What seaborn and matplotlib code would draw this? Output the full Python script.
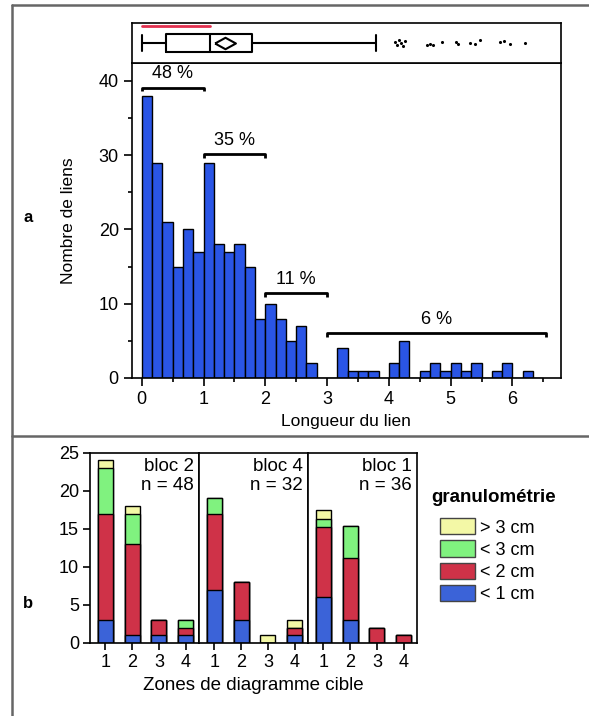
import numpy as np
import pandas as pd
import matplotlib.pyplot as plt
import seaborn as sns
from matplotlib.lines import Line2D
from matplotlib.patches import Patch
from matplotlib.ticker import MultipleLocator

# --- panneau a : histogramme des longueurs de liens (classes de 1/6) ---
hist_counts = [38, 29, 21, 15, 20, 17,
               29, 18, 17, 18, 15, 8,
               10, 8, 5, 7, 2, 0,
               0, 4, 1, 1, 1, 0,
               2, 5, 0, 1, 2, 1,
               2, 1, 2, 0, 1, 2,
               0, 1, 0]
bin_w = 1 / 6

pct_labels = ['48 %', '35 %', '11 %', '6 %']
pct_x0 = [0, 1, 2, 3]
pct_x1 = [1, 2, 3, 6.55]
pct_y = [39.1, 30.1, 11.4, 6.0]

# boite a moustaches
box_q1, box_med, box_mean, box_q3 = 0.39, 1.10, 1.34, 1.78
box_whislo, box_whishi = 0.0, 3.79
out_x = [4.10, 4.13, 4.16, 4.20, 4.23, 4.26, 4.62, 4.66, 4.72, 4.86,
         5.09, 5.12, 5.31, 5.40, 5.47, 5.80, 5.86, 5.96, 6.20]
out_y = [0.05, -0.1, 0.12, 0.0, -0.15, 0.08, -0.12, -0.05, -0.1, 0.02,
         0.05, -0.08, 0.0, -0.05, 0.12, 0.05, 0.1, -0.05, -0.02]
red_x = [0.0, 1.10]

# --- panneau b : granulometrie par zone ---
blocs = ['bloc 2', 'bloc 4', 'bloc 1']
bloc_n = [48, 32, 36]
zones = ['1', '2', '3', '4']
lt1 = [[3, 1, 1, 1], [7, 3, 0, 1], [6, 3, 0, 0]]
lt2 = [[14, 12, 2, 1], [10, 5, 0, 1], [9.2, 8.2, 2, 1]]
lt3 = [[6, 4, 0, 1], [2, 0, 0, 0], [1.1, 4.15, 0, 0]]
gt3 = [[1, 1, 0, 0], [0, 0, 1, 1], [1.1, 0, 0, 0]]
classes = ['> 3 cm', '< 3 cm', '< 2 cm', '< 1 cm']
class_colors = ['#f3f8a6', '#80f27f', '#cf3248', '#3b63d8']

sns.set_style('ticks')
plt.rcParams['font.family'] = ['Liberation Sans', 'DejaVu Sans']
plt.rcParams['axes.linewidth'] = 1.2
for key in ['text.color', 'axes.labelcolor', 'xtick.color', 'ytick.color', 'axes.edgecolor']:
    plt.rcParams[key] = 'black'

W, H = 589, 716
fig = plt.figure(figsize=(W / 100, H / 100), dpi=100)

def fx(px):
    return px / W

def fy(py):
    return 1 - py / H

x_lo, x_hi = -0.157, 6.78

# histogramme
ax_h = fig.add_axes([fx(132), fy(378), fx(560.7) - fx(132), fy(63) - fy(378)])
centers = (np.arange(len(hist_counts)) + 0.5) * bin_w
df_h = pd.DataFrame({'longueur': centers, 'n': hist_counts})
sns.histplot(data=df_h, x='longueur', weights='n', binwidth=bin_w,
             binrange=(0, len(hist_counts) * bin_w), color='#2a55e6',
             edgecolor='black', linewidth=1, alpha=1, ax=ax_h)
ax_h.set_xlim(x_lo, x_hi)
ax_h.set_ylim(0, 42.4)
ax_h.xaxis.set_major_locator(MultipleLocator(1))
ax_h.xaxis.set_minor_locator(MultipleLocator(0.5))
ax_h.yaxis.set_major_locator(MultipleLocator(10))
ax_h.yaxis.set_minor_locator(MultipleLocator(5))
ax_h.tick_params(which='major', length=6, width=1.2, labelsize=13, direction='out')
ax_h.tick_params(which='minor', length=3, width=1.2, direction='out')
ax_h.set_xlabel('Longueur du lien', fontsize=12.5, labelpad=4)
ax_h.set_ylabel('Nombre de liens', fontsize=12.5, labelpad=16)
for s in ax_h.spines.values():
    s.set_visible(True)

for lab, a, b, y in zip(pct_labels, pct_x0, pct_x1, pct_y):
    ax_h.plot([a, a, b, b], [y - 0.5, y, y, y - 0.5], color='black', lw=2,
              solid_capstyle='butt')
    ax_h.text((a + b) / 2, y + 0.7, lab, ha='center', va='bottom', fontsize=13)

# boite a moustaches
ax_b = fig.add_axes([fx(132), fy(63), fx(560.7) - fx(132), fy(22.7) - fy(63)])
stats = [dict(q1=box_q1, med=box_med, q3=box_q3, mean=box_mean,
              whislo=box_whislo, whishi=box_whishi, fliers=[])]
diamond = [(-1, 0), (0, 0.55), (1, 0), (0, -0.55), (-1, 0)]
ax_b.bxp(stats, positions=[0], widths=0.9, orientation='horizontal',
         showmeans=True, capwidths=0.8,
         boxprops=dict(color='black', lw=1.5),
         whiskerprops=dict(color='black', lw=1.5),
         capprops=dict(color='black', lw=1.5),
         medianprops=dict(color='black', lw=1.5),
         meanprops=dict(marker=diamond, markersize=15, markerfacecolor='white',
                        markeredgecolor='black', markeredgewidth=1.5))
ax_b.scatter(out_x, out_y, s=1.5, color='black', zorder=3)
ax_b.plot(red_x, [0.85, 0.85], color='#e2304f', lw=2)
ax_b.set_xlim(x_lo, x_hi)
ax_b.set_ylim(-1, 1)
ax_b.set_xticks([])
ax_b.set_yticks([])
for s in ax_b.spines.values():
    s.set_visible(True)

# panneau b : barres empilees
left, right = 90, 417
pw = (right - left) / 3
axes_b = []
for i, bloc in enumerate(blocs):
    ax = fig.add_axes([fx(left + i * pw), fy(642.7), fx(pw), fy(452.7) - fy(642.7)])
    axes_b.append(ax)
    layers = np.array([lt1[i], lt2[i], lt3[i], gt3[i]], dtype=float)
    cum = np.cumsum(layers, axis=0)
    # du plus haut (>3 cm) au plus bas (<1 cm)
    for k, col in zip([3, 2, 1, 0], class_colors):
        sns.barplot(x=zones, y=cum[k], color=col, saturation=1, width=0.56,
                    edgecolor='black', linewidth=1, errorbar=None, ax=ax)
    ax.set_xlim(-0.58, 3.5)
    ax.set_ylim(0, 25)
    ax.set_xlabel('')
    ax.set_ylabel('')
    ax.tick_params(length=5, width=1.2, labelsize=13, pad=3)
    for s in ax.spines.values():
        s.set_visible(True)
    ax.text(0.95, 0.97, f'{bloc}\nn = {bloc_n[i]}', transform=ax.transAxes,
            ha='right', va='top', fontsize=13.5, linespacing=1.15)
    if i == 0:
        ax.yaxis.set_major_locator(MultipleLocator(5))
    else:
        ax.set_yticks([])

fig.text(fx(253), fy(685), 'Zones de diagramme cible', ha='center', va='center',
         fontsize=13.5)

fig.text(fx(431), fy(498), 'granulométrie', ha='left', va='center',
         fontsize=13.5, fontweight='bold')
handles = [Patch(facecolor=c, edgecolor='#444', label=l)
           for c, l in zip(class_colors, classes)]
fig.legend(handles=handles, loc='upper left',
           bbox_to_anchor=(fx(424), fy(502)), frameon=False, fontsize=13,
           handlelength=1.9, handleheight=1.0, handletextpad=0.3,
           labelspacing=0.22)

# lettres et cadre
fig.text(fx(28), fy(218), 'a', fontsize=12, fontweight='bold', ha='center', va='center')
fig.text(fx(28), fy(603), 'b', fontsize=12, fontweight='bold', ha='center', va='center')
frame = dict(color='#666666', lw=1.8, transform=fig.transFigure)
fig.add_artist(Line2D([fx(12), fx(12)], [fy(5), 0], **frame))
fig.add_artist(Line2D([fx(12), 1], [fy(5), fy(5)], **frame))
fig.add_artist(Line2D([fx(12), 1], [fy(436), fy(436)], **frame))

fig.savefig('out.png', dpi=100)
